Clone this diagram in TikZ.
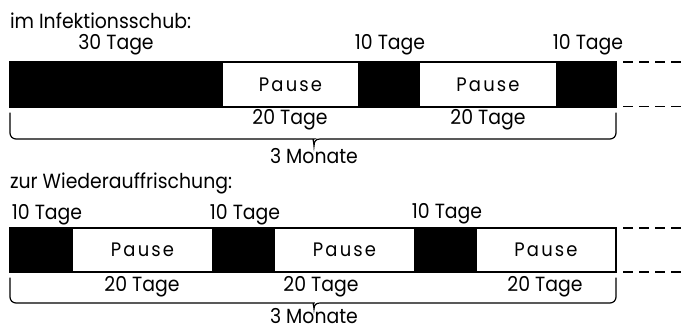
\documentclass[tikz,border=0pt]{standalone}
\usepackage{fontspec}
\setmainfont{Poppins}[FakeStretch=0.92]
\newfontfamily\pausefont[LetterSpace=11,FakeStretch=0.92]{Poppins}
\begin{document}
\begin{tikzpicture}[x=1pt,y=-1pt,
  lbl/.style={inner sep=0pt, outer sep=0pt, font=\fontsize{20.5}{24}\selectfont},
  seg/.style={draw=black, line width=1.2pt, inner sep=0pt, outer sep=0pt, anchor=north west},
  blk/.style={seg, fill=black},
  wht/.style={seg, fill=white, font=\fontsize{19.5}{23}\selectfont\pausefont},
  brace/.style={line width=1.2pt, line cap=round},
  dashline/.style={line width=1.2pt, dash pattern=on 10pt off 6pt}
]
\useasboundingbox (0,0) rectangle (685,336);

% ---------- first bar ----------
\node[lbl, anchor=base west] (title1) at (10,29) {im Infektionsschub:};
\node[blk, minimum width=212pt, minimum height=45pt] (a1) at (10,62) {};
\node[wht, minimum width=137pt, minimum height=45pt] (a2) at (222,62) {Pause};
\node[blk, minimum width=60pt,  minimum height=45pt] (a3) at (359,62) {};
\node[wht, minimum width=138pt, minimum height=45pt] (a4) at (419,62) {Pause};
\node[blk, minimum width=59pt,  minimum height=45pt] (a5) at (557,62) {};

\node[lbl, anchor=base] (t30) at (116,50) {30 Tage};
\node[lbl, anchor=base] (t10a) at (390,50) {10 Tage};
\node[lbl, anchor=base] (t10b) at (588,50) {10 Tage};
\node[lbl, anchor=base] (t20a) at (290,125) {20 Tage};
\node[lbl, anchor=base] (t20b) at (488,125) {20 Tage};

\coordinate (b1l) at (10,113);
\coordinate (b1r) at (616,113);
\coordinate (b1m) at (314,146);
\draw[brace] (b1l) [rounded corners=6pt] -- (10,139) -- (308,139) [sharp corners]
  .. controls (312,139) and (314,141) .. (b1m)
  .. controls (314,141) and (316,139) .. (320,139)
  [rounded corners=6pt] -- (616,139) -- (b1r);
\node[lbl, anchor=base] (m1) at (314,164) {3 Monate};

\coordinate (d1a) at (623,62);  \coordinate (d1b) at (685,62);
\coordinate (d1c) at (623,106.5); \coordinate (d1d) at (685,106.5);
\draw[dashline] (d1a) -- (d1b);
\draw[dashline] (d1c) -- (d1d);

% ---------- second bar ----------
\node[lbl, anchor=base west] (title2) at (10,189) {zur Wiederauffrischung:};
\node[blk, minimum width=62pt,  minimum height=44pt] (c1) at (10,228) {};
\node[wht, minimum width=141pt, minimum height=44pt] (c2) at (72,228) {Pause};
\node[blk, minimum width=61pt,  minimum height=44pt] (c3) at (213,228) {};
\node[wht, minimum width=141pt, minimum height=44pt] (c4) at (274,228) {Pause};
\node[blk, minimum width=61pt,  minimum height=44pt] (c5) at (415,228) {};
\node[wht, minimum width=140pt, minimum height=44pt] (c6) at (476,228) {Pause};

\node[lbl, anchor=base] (u10a) at (47,220) {10 Tage};
\node[lbl, anchor=base] (u10b) at (245,220) {10 Tage};
\node[lbl, anchor=base] (u10c) at (447,219) {10 Tage};
\node[lbl, anchor=base] (u20a) at (142,292) {20 Tage};
\node[lbl, anchor=base] (u20b) at (321,292) {20 Tage};
\node[lbl, anchor=base] (u20c) at (545,292) {20 Tage};

\coordinate (b2l) at (10,278);
\coordinate (b2r) at (616,278);
\coordinate (b2m) at (314,309);
\draw[brace] (b2l) [rounded corners=6pt] -- (10,303) -- (308,303) [sharp corners]
  .. controls (312,303) and (314,305) .. (b2m)
  .. controls (314,305) and (316,303) .. (320,303)
  [rounded corners=6pt] -- (616,303) -- (b2r);
\node[lbl, anchor=base] (m2) at (314,324) {3 Monate};

\coordinate (d2a) at (623,228);  \coordinate (d2b) at (685,228);
\coordinate (d2c) at (623,272); \coordinate (d2d) at (685,272);
\draw[dashline] (d2a) -- (d2b);
\draw[dashline] (d2c) -- (d2d);
\end{tikzpicture}
\end{document}
